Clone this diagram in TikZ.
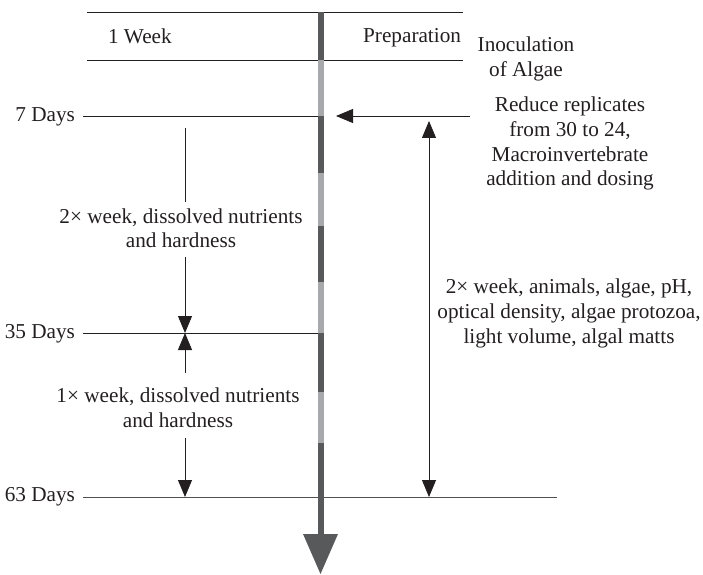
\documentclass[tikz,border=0pt]{standalone}
\usepackage{fontspec}
\setmainfont{Liberation Serif}
\usetikzlibrary{arrows.meta}
\definecolor{ink}{HTML}{231F20}
\definecolor{bardark}{HTML}{58595B}
\definecolor{barlight}{HTML}{A7A9AC}
\definecolor{linegray}{HTML}{505050}
\begin{document}
\begin{tikzpicture}[x=1bp,y=-1bp,
  lbl/.style={inner sep=0pt, outer sep=0pt, text=ink, font=\fontsize{21.3}{24.7}\selectfont, align=center},
  rule/.style={draw=ink, line width=0.9bp},
  arr/.style={rule, -{Triangle[length=17bp,width=14bp]}},
  darkseg/.style={draw=bardark, line width=6bp},
  lightseg/.style={draw=barlight, line width=6bp}]
\useasboundingbox (0,0) rectangle (703,575);

% coordinates
\coordinate (t1L) at (87,12);   \coordinate (t1R) at (463,12);
\coordinate (t2L) at (87,60);   \coordinate (t2R) at (463,60);
\coordinate (d7L) at (83,116);  \coordinate (d7R) at (318,116);
\coordinate (d35L) at (83,333); \coordinate (d35R) at (318,333);
\coordinate (d63L) at (83,497); \coordinate (d63R) at (557,497);
\coordinate (redS) at (470,116); \coordinate (redE) at (336,116);
\coordinate (aA) at (185,128); \coordinate (aB) at (185,202);
\coordinate (aC) at (185,257); \coordinate (aD) at (185,333);
\coordinate (bA) at (185,373); \coordinate (bB) at (185,438);
\coordinate (bC) at (185,497);
\coordinate (rA) at (429,121); \coordinate (rB) at (429,497);

% horizontal rules
\draw[rule] (t1L) -- (t1R);
\draw[rule] (t2L) -- (t2R);
\draw[rule] (d7L) -- (d7R);
\draw[rule] (d35L) -- (d35R);
\draw[rule, draw=linegray] (d63L) -- (d63R);

% timeline bar
\coordinate (b0) at (320.5,12);
\coordinate (b1) at (320.5,60);
\coordinate (b2) at (320.5,116);
\coordinate (b3) at (320.5,173);
\coordinate (b4) at (320.5,226);
\coordinate (b5) at (320.5,282);
\coordinate (b6) at (320.5,333);
\coordinate (b7) at (320.5,392);
\coordinate (b8) at (320.5,443);
\coordinate (b9) at (320.5,535);
\draw[darkseg] (b0) -- (b1);
\draw[lightseg] (b1) -- (b2);
\draw[darkseg] (b2) -- (b3);
\draw[lightseg] (b3) -- (b4);
\draw[darkseg] (b4) -- (b5);
\draw[lightseg] (b5) -- (b6);
\draw[darkseg] (b6) -- (b7);
\draw[lightseg] (b7) -- (b8);
\draw[darkseg] (b8) -- (b9);
\fill[bardark] (303,534) -- (338,534) -- (320.5,574) -- cycle;

% arrows
\draw[arr] (redS) -- (redE);
\draw[rule] (aA) -- (aB);
\draw[arr] (aC) -- (aD);
\draw[arr] (bA) -- (aD);
\draw[arr] (bB) -- (bC);
\draw[arr, {Triangle[length=17bp,width=14bp]}-{Triangle[length=17bp,width=14bp]}] (rA) -- (rB);

% labels
\node[lbl, anchor=base west] (week) at (108,43.5) {1 Week};
\node[lbl, anchor=base east] (prep) at (461,43) {Preparation};
\node[lbl, anchor=north] (inoc) at (526,51.7-17.3) {\strut Inoculation\\of Algae};
\node[lbl, anchor=base east] (d7) at (75,121.7) {7 Days};
\node[lbl, anchor=base east] (d35) at (75,338) {35 Days};
\node[lbl, anchor=base east] (d63) at (75,501.7) {63 Days};
\node[lbl, anchor=north] (reduce) at (570,112-17.3) {\strut Reduce replicates\\from 30 to 24,\\Macroinvertebrate\\addition and dosing};
\node[lbl, anchor=north] (twox) at (181,223.3-17.3) {\strut 2× week, dissolved nutrients\\and hardness};
\node[lbl, anchor=north] (onex) at (178,402.7-17.3) {\strut 1× week, dissolved nutrients\\and hardness};
\node[lbl, anchor=north] (anim) at (569,294-17.3) {\strut 2× week, animals, algae, pH,\\optical density, algae protozoa,\\light volume, algal matts};
\end{tikzpicture}
\end{document}
